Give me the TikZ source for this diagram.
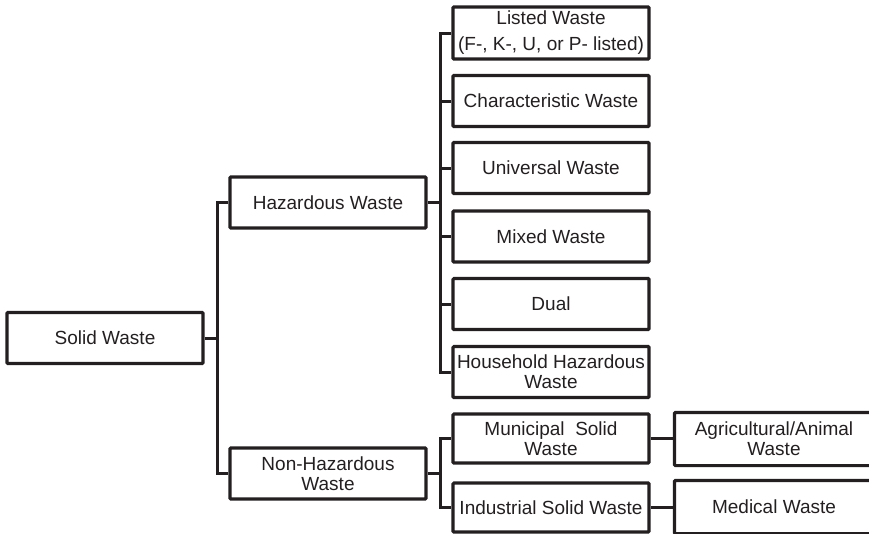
\documentclass[tikz,border=0pt]{standalone}
\usepackage{fontspec}
\setmainfont{Liberation Sans}
\definecolor{ink}{HTML}{231F20}
\begin{document}
\begin{tikzpicture}[x=1pt,y=-1pt,
  box/.style={draw=ink,line width=3.2pt,text=ink,minimum width=196pt,minimum height=51pt,
    inner sep=0pt,align=center,rounded corners=1pt,
    font=\fontsize{19}{20}\selectfont},
  cutbox/.style={box,draw=none,
    append after command={\pgfextra{\draw[draw=ink,line width=3.2pt,rounded corners=1pt]
      (\tikzlastnode.north west) rectangle ([xshift=14pt]\tikzlastnode.south east);}}},
  link/.style={draw=ink,line width=3pt}]
\useasboundingbox (0,0) rectangle (869,533);
\node[box] (solid) at (105,338) {Solid Waste};
\node[box] (haz) at (328,202.5) {Hazardous Waste};
\node[box] (nonhaz) at (328,473.5) {Non-Hazardous\\Waste};
\node[box,minimum height=52pt] (listed) at (551,33) {Listed Waste\\[6pt](F-, K-, U, or P- listed)};
\node[box] (char) at (551,101) {Characteristic Waste};
\node[box] (univ) at (551,168) {Universal Waste};
\node[box] (mixed) at (551,236.5) {Mixed Waste};
\node[box] (dual) at (551,304) {Dual};
\node[box] (house) at (551,372) {Household Hazardous\\Waste};
\node[box,minimum height=49pt] (muni) at (551,438.5) {Municipal\ \ Solid\\Waste};
\node[box,minimum height=49pt] (indus) at (551,507.5) {Industrial Solid Waste};
\node[cutbox,minimum height=50pt] (agri) at (774,439) {Agricultural/Animal\\Waste};
\node[cutbox,minimum height=50pt] (med) at (774,507) {Medical Waste};
\coordinate (t1) at ([xshift=13pt]solid.east);
\coordinate (t2) at ([xshift=13pt]haz.east);
\coordinate (t3) at ([xshift=13pt]nonhaz.east);
\draw[link] (solid.east) -- (t1) |- (haz.west);
\draw[link] (t1) |- (nonhaz.west);
\draw[link] (haz.east) -- (t2) |- (listed.west);
\draw[link] (t2) |- (char.west);
\draw[link] (t2) |- (univ.west);
\draw[link] (t2) |- (mixed.west);
\draw[link] (t2) |- (dual.west);
\draw[link] (t2) |- (house.west);
\draw[link] (nonhaz.east) -- (t3) |- (muni.west);
\draw[link] (t3) |- (indus.west);
\draw[link] (muni.east) -- (muni.east -| agri.west);
\draw[link] (indus.east) -- (indus.east -| med.west);
\end{tikzpicture}
\end{document}
